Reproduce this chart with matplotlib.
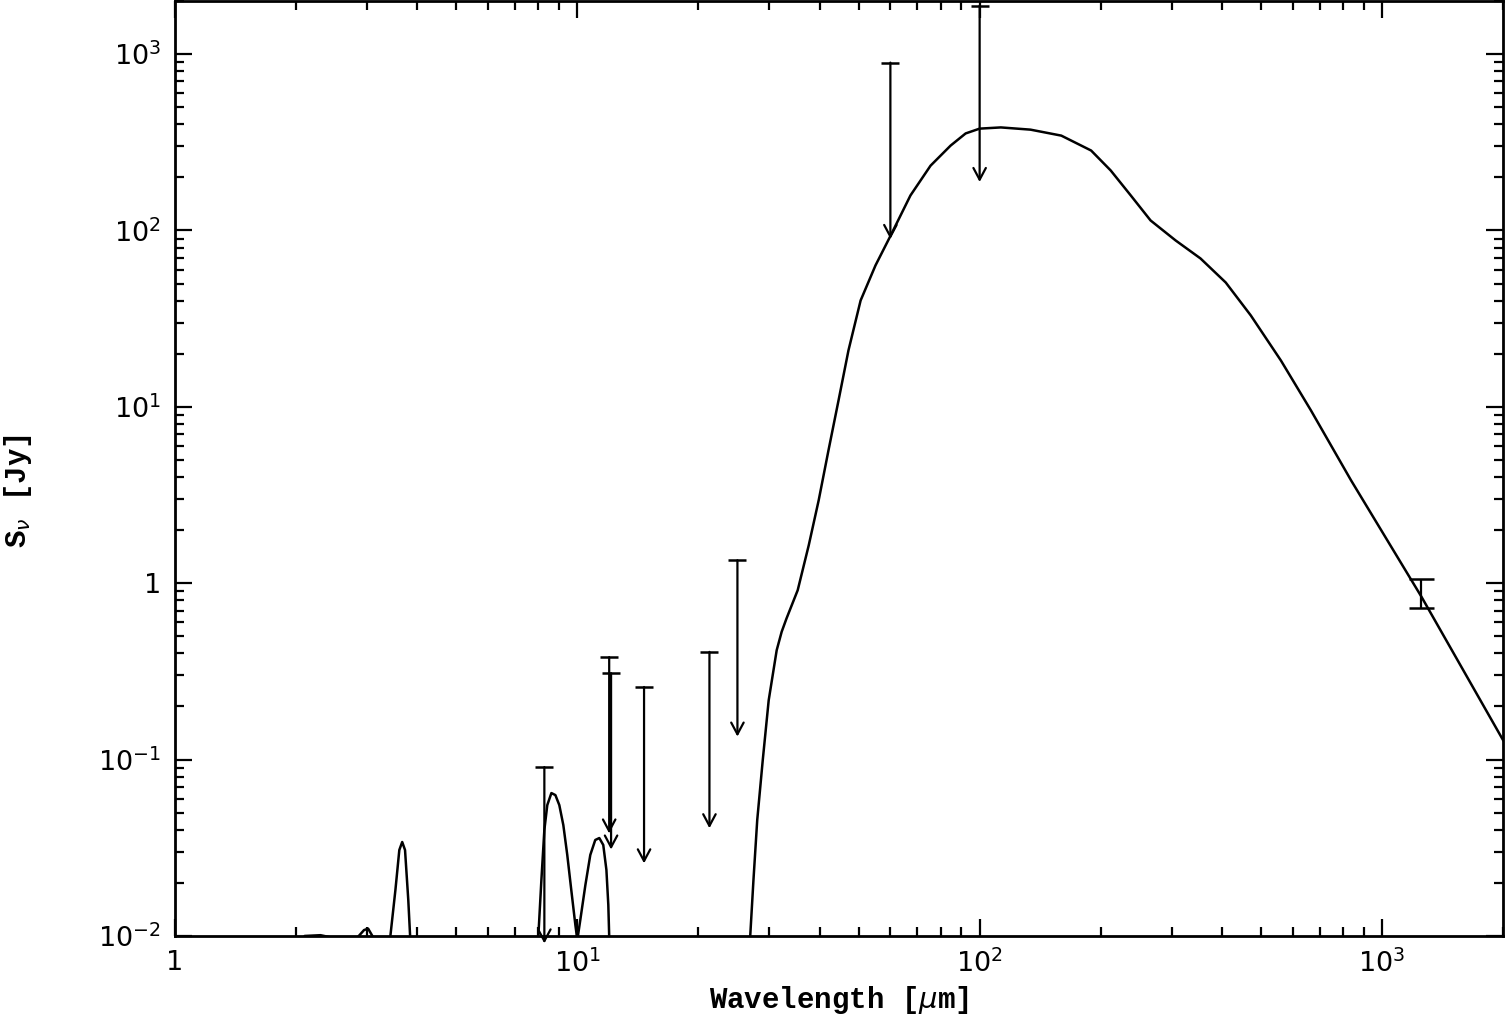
# SED plot: model curve + upper limits (MSX / IRAS) + 1.2 mm point

import numpy as np
import matplotlib
matplotlib.use('Agg')
import matplotlib.pyplot as plt

# model curve (wavelength in micron, flux in Jy)
lam_model = [1.0, 1.9, 2.1, 2.3, 2.5, 2.7, 2.84, 2.95, 3.02, 3.11, 3.25,
             3.38, 3.43, 3.53, 3.61, 3.67, 3.73, 3.80, 3.84, 4.0,
             7.9, 8.0, 8.14, 8.28, 8.42, 8.62, 8.82, 9.02, 9.23, 9.44, 9.66, 9.89, 10.0,
             10.17, 10.47, 10.77, 11.08, 11.34, 11.60, 11.81, 11.94, 12.0, 12.3,
             26.0, 26.9, 27.4, 28.0, 28.9, 29.9, 31.3, 32.2, 33.1, 35.3, 37.6, 39.8,
             42.1, 44.6, 47.2, 50.6, 55.1, 60.1, 67.3, 75.5, 84.7, 92.3, 100.0,
             112.9, 133.8, 159.6, 189.3, 211.7, 237.5, 266.0, 307.0, 354.0,
             409.0, 472.0, 561.0, 666.0, 838.0, 1253.0, 2000.0]
s_model = [1e-4, 0.005, 0.0100, 0.0101, 0.0097, 0.008, 0.0098, 0.0108, 0.011, 0.0098, 0.004,
           0.007, 0.0100, 0.0182, 0.0307, 0.0341, 0.0307, 0.016, 0.0100, 1e-3,
           0.004, 0.0100, 0.0207, 0.0399, 0.0552, 0.0646, 0.0629, 0.0552, 0.0425, 0.0288, 0.0182, 0.0115, 0.0095,
           0.0123, 0.0194, 0.0288, 0.035, 0.0359, 0.0328, 0.0237, 0.015, 0.0100, 1e-3,
           1e-3, 0.0100, 0.0207, 0.0454, 0.0993, 0.217, 0.417, 0.53, 0.63, 0.913, 1.64, 2.95,
           5.67, 10.9, 20.9, 40.1, 63.4, 93.7, 158.0, 233.0, 303.0, 355.0, 378.0,
           384.0, 373.0, 345.0, 284.0, 219.0, 158.0, 114.0, 87.8, 69.4,
           50.7, 33.0, 18.3, 9.55, 3.83, 0.84, 0.129]

# upper limits: MSX A, IRAS 12, MSX C, MSX D, MSX E, IRAS 25, 60, 100
lam_lim = [8.28, 12.0, 12.13, 14.65, 21.3, 25.0, 60.0, 100.0]
s_lim = [0.0907, 0.381, 0.309, 0.258, 0.408, 1.35, 895.0, 1883.0]

# 1.2 mm detection
lam_det = [1250.0]
s_det = [0.89]
s_det_err = [0.17]

xticks = [1, 10, 100, 1000]
xticklabels = ['1', r'$10^{1}$', r'$10^{2}$', r'$10^{3}$']
yticks = [0.01, 0.1, 1, 10, 100, 1000]
yticklabels = [r'$10^{-2}$', r'$10^{-1}$', '1', r'$10^{1}$', r'$10^{2}$', r'$10^{3}$']

plt.rcParams['mathtext.fontset'] = 'dejavusans'

fig = plt.figure(figsize=(15.05, 10.19), dpi=100)
ax = fig.add_axes([0.1163, 0.0815, 0.8824, 0.9175])

ax.plot(lam_model, s_model, color='black', lw=1.8)

for lam, s in zip(lam_lim, s_lim):
    ax.annotate('', xy=(lam, s / 10.0), xytext=(lam, s), annotation_clip=False,
                arrowprops=dict(arrowstyle='->,head_length=0.6,head_width=0.32',
                                lw=1.6, color='black', mutation_scale=14,
                                shrinkA=0, shrinkB=0))
    ax.plot([lam], [s], marker='_', markersize=13, mew=1.8, color='black', clip_on=False)

ax.errorbar(lam_det, s_det, yerr=s_det_err, fmt='none', ecolor='black',
            elinewidth=1.6, capsize=9, capthick=1.8)

ax.set_xscale('log')
ax.set_yscale('log')
ax.set_xlim(1, 2000)
ax.set_ylim(0.01, 2000)

ax.set_xticks(xticks)
ax.set_xticklabels(xticklabels)
ax.set_yticks(yticks)
ax.set_yticklabels(yticklabels)
ax.tick_params(which='both', direction='in', top=True, right=True, labelsize=19.5)
ax.tick_params(which='major', length=12, width=1.6, pad=10)
ax.tick_params(which='minor', length=6.5, width=1.6)
for sp in ax.spines.values():
    sp.set_linewidth(2.0)

ax.set_xlabel(r'Wavelength [$\mu$m]', fontsize=21, fontfamily='Liberation Mono',
              fontweight='bold', labelpad=4)
ax.set_ylabel(r'S$_\nu$ [Jy]', fontsize=21, fontfamily='Liberation Mono',
              fontweight='bold')
ax.yaxis.set_label_coords(-0.106, 0.476)

fig.savefig('out.png', dpi=100)
